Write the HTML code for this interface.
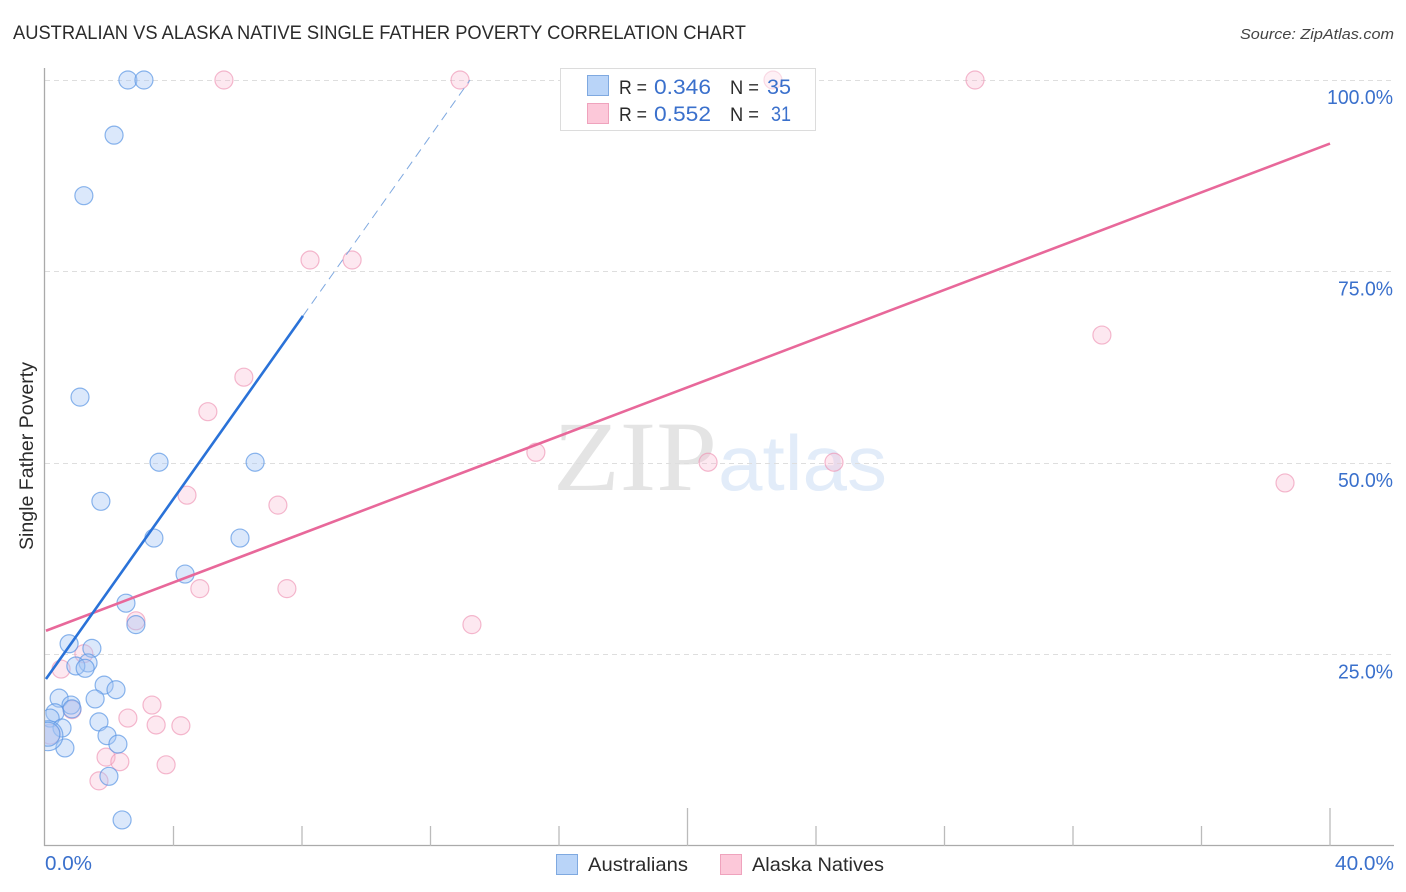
<!DOCTYPE html>
<html lang="en">
<head>
<meta charset="utf-8">
<title>Australian vs Alaska Native Single Father Poverty Correlation Chart</title>
<style>
html,body{margin:0;padding:0;background:#fff;width:1406px;height:892px;overflow:hidden}
svg{display:block;font-family:"Liberation Sans",sans-serif}
</style>
</head>
<body>
<svg id="chart" xmlns="http://www.w3.org/2000/svg" width="1406" height="892" viewBox="0 0 1406 892">
  <defs>
    <clipPath id="plot-clip"><rect x="45" y="60" width="1350" height="786"/></clipPath>
  </defs>
  <g id="watermark">
    <text x="553" y="490" font-family="'Liberation Serif',serif" font-size="100" fill="#e4e4e4" textLength="164" lengthAdjust="spacingAndGlyphs">ZIP</text>
    <text x="718" y="490" font-size="78" fill="#e2ecf9" textLength="169" lengthAdjust="spacingAndGlyphs">atlas</text>
  </g>
  <g id="grid"></g>
  <g id="axes"></g>
  <rect x="560.5" y="68.5" width="255" height="62" fill="#fff" stroke="#dcdcdc"/>
  <g id="pink-points" clip-path="url(#plot-clip)"></g>
  <g id="blue-points" clip-path="url(#plot-clip)"></g>
  <g id="trends"></g>
  <g>
    <rect x="587.5" y="75.5" width="21" height="20" fill="#b9d4f8" stroke="#7fa9e0"/>
    <rect x="587.5" y="103.5" width="21" height="20" fill="#fcc8d9" stroke="#efa3bd"/>
    <text x="619" y="94" font-size="19.5" fill="#2b2b2b" textLength="28" lengthAdjust="spacingAndGlyphs">R =</text>
    <text x="654" y="94" font-size="21" fill="#3a70cc" textLength="57" lengthAdjust="spacingAndGlyphs">0.346</text>
    <text x="730" y="94" font-size="19.5" fill="#2b2b2b" textLength="29" lengthAdjust="spacingAndGlyphs">N =</text>
    <text x="767" y="94" font-size="21" fill="#3a70cc" textLength="24" lengthAdjust="spacingAndGlyphs">35</text>
    <text x="619" y="121" font-size="19.5" fill="#2b2b2b" textLength="28" lengthAdjust="spacingAndGlyphs">R =</text>
    <text x="654" y="121" font-size="21" fill="#3a70cc" textLength="57" lengthAdjust="spacingAndGlyphs">0.552</text>
    <text x="730" y="121" font-size="19.5" fill="#2b2b2b" textLength="29" lengthAdjust="spacingAndGlyphs">N =</text>
    <text x="771" y="121" font-size="21" fill="#3a70cc" textLength="20" lengthAdjust="spacingAndGlyphs">31</text>
  </g>
  <text x="13" y="39" font-size="19.5" fill="#2b2b2b" textLength="733" lengthAdjust="spacingAndGlyphs">AUSTRALIAN VS ALASKA NATIVE SINGLE FATHER POVERTY CORRELATION CHART</text>
  <text x="1394" y="39" font-size="15" font-style="italic" fill="#444" text-anchor="end" textLength="154" lengthAdjust="spacingAndGlyphs">Source: ZipAtlas.com</text>
  <text transform="translate(33,550) rotate(-90)" font-size="19" fill="#2b2b2b" textLength="188" lengthAdjust="spacingAndGlyphs">Single Father Poverty</text>

  <g>
    <rect x="556.5" y="854.5" width="21" height="20" fill="#b9d4f8" stroke="#7fa9e0"/>
    <text x="588" y="871" font-size="19.5" fill="#2b2b2b" textLength="100" lengthAdjust="spacingAndGlyphs">Australians</text>
    <rect x="720.5" y="854.5" width="21" height="20" fill="#fcc8d9" stroke="#efa3bd"/>
    <text x="752" y="871" font-size="19.5" fill="#2b2b2b" textLength="132" lengthAdjust="spacingAndGlyphs">Alaska Natives</text>
  </g>
</svg>
<script>
const blueX = [2.58,3.08,2.15,1.21,1.09,3.55,6.54,1.74,3.39,6.07,4.36,2.52,2.83,0.75,1.46,1.34,0.96,1.25,1.84,2.21,0.44,1.56,0.81,0.84,0.31,0.16,1.68,0.53,1.93,2.27,0.62,1.99,2.40,0.09,0.09];
const blueY = [100,100,92.8,84.9,58.6,50.1,50.1,45.0,40.2,40.2,35.5,31.7,28.9,26.4,25.8,23.9,23.5,23.2,21.0,20.4,19.3,19.2,18.4,17.9,17.4,16.7,16.2,15.4,14.4,13.3,12.8,9.1,3.4,14.4,14.6];
const pinkX = [5.57,12.92,22.66,28.95,8.25,9.56,32.9,6.19,5.07,15.28,20.64,24.56,4.42,7.25,38.6,4.82,7.53,2.83,13.29,1.21,0.5,3.33,0.84,2.58,3.46,4.23,1.9,2.33,3.77,1.68,0.16];
const pinkY = [100,100,100,100,76.5,76.5,66.7,61.2,56.7,51.4,50.1,50.1,45.8,44.5,47.4,33.6,33.6,29.4,28.9,25.1,23.1,18.4,17.8,16.7,15.8,15.7,11.6,11.0,10.6,8.5,14.6];
const blueSolidX = [0.03,8.03];
const blueSolidY = [21.8,69.2];
const blueDashX = [8.03,13.23];
const blueDashY = [69.2,100];
const pinkTrendX = [0.03,40];
const pinkTrendY = [28.1,91.7];
const yTicks = [100,75,50,25];
const yTickLabels = ["100.0%","75.0%","50.0%","25.0%"];
const xTicks = [0,4,8,12,16,20,24,28,32,36,40];
const xMajorTicks = [20,40];
const xEndLabels = ["0.0%","40.0%"];

const NS = "http://www.w3.org/2000/svg";
function sx(v){ return 45 + v * 32.125; }
function sy(v){ return 846 - v * 7.66; }
function make(tag, attrs, parent){
  const el = document.createElementNS(NS, tag);
  for (const k in attrs) el.setAttribute(k, attrs[k]);
  parent.appendChild(el);
  return el;
}
const grid = document.getElementById("grid");
const axes = document.getElementById("axes");
const chart = document.getElementById("chart");

yTicks.forEach(function(t, i){
  const line = make("line", {x1:45, x2:1393, y1:Math.floor(sy(t))+0.5, y2:Math.floor(sy(t))+0.5, stroke:"#dedede", "stroke-width":1, "stroke-dasharray":"5 4"}, grid);
  
  
  const label = make("text", {x:1393, y:sy(t)+24, "text-anchor":"end", "font-size":20, fill:"#3a70cc"}, chart);
  
  
  label.setAttribute('textLength', yTickLabels[i].length > 5 ? 66 : 55);
  label.setAttribute('lengthAdjust', 'spacingAndGlyphs');
  label.textContent = yTickLabels[i];
});

const yAxis = make("line", {x1:44.5, x2:44.5, y1:68, y2:846, stroke:"#aaaaaa", "stroke-width":1.3}, axes);


const xAxis = make("line", {x1:44, x2:1394, y1:845.5, y2:845.5, stroke:"#aaaaaa", "stroke-width":1.3}, axes);



xTicks.forEach(function(t){
  if (t === 0) return;
  const top = xMajorTicks.indexOf(t) >= 0 ? 808 : 826;
  const tick = make("line", {x1:sx(t), x2:sx(t), y1:top, y2:846, stroke:"#bbbbbb", "stroke-width":1.3}, axes);
  
  
});

const xStart = make("text", {x:45, y:870, "font-size":20, fill:"#3a70cc", textLength:47, lengthAdjust:"spacingAndGlyphs"}, chart);


xStart.textContent = xEndLabels[0];
const xEnd = make("text", {x:1394, y:870, "text-anchor":"end", "font-size":20, fill:"#3a70cc", textLength:59, lengthAdjust:"spacingAndGlyphs"}, chart);


xEnd.textContent = xEndLabels[1];

const pinkGroup = document.getElementById("pink-points");
const bigPink = {30:10};
pinkX.forEach(function(v, i){
  const c = make("circle", {cx:sx(v), cy:sy(pinkY[i]), r:bigPink[i] || 9, fill:"#f8b4cc", "fill-opacity":0.3, stroke:"#ee94b4", "stroke-opacity":0.65, "stroke-width":1.2}, pinkGroup);
  if (pinkY[i] === 100 && pinkX[i] > 20 && pinkX[i] < 24) {
    c.setAttribute('fill-opacity', 0.2);
    c.setAttribute('stroke-opacity', 0.3);
  }
  
  
});

const blueGroup = document.getElementById("blue-points");
const bigBlue = {33:15, 34:12};
blueX.forEach(function(v, i){
  const c = make("circle", {cx:sx(v), cy:sy(blueY[i]), r:bigBlue[i] || 9, fill:"#a4c6f4", "fill-opacity":0.4, stroke:"#5a96e4", "stroke-opacity":0.7, "stroke-width":1.2}, blueGroup);
  
  
});

const trends = document.getElementById("trends");
const pinkLine = make("line", {x1:sx(pinkTrendX[0]), y1:sy(pinkTrendY[0]), x2:sx(pinkTrendX[1]), y2:sy(pinkTrendY[1]), stroke:"#e8689a", "stroke-width":2.6}, trends);


const blueLine = make("line", {x1:sx(blueSolidX[0]), y1:sy(blueSolidY[0]), x2:sx(blueSolidX[1]), y2:sy(blueSolidY[1]), stroke:"#2a72d8", "stroke-width":2.6}, trends);


const blueDash = make("line", {x1:sx(blueDashX[0]), y1:sy(blueDashY[0]), x2:sx(blueDashX[1]), y2:sy(blueDashY[1]), stroke:"#7fa9e0", "stroke-width":1, "stroke-dasharray":"9 6"}, trends);


</script>
</body>
</html>
